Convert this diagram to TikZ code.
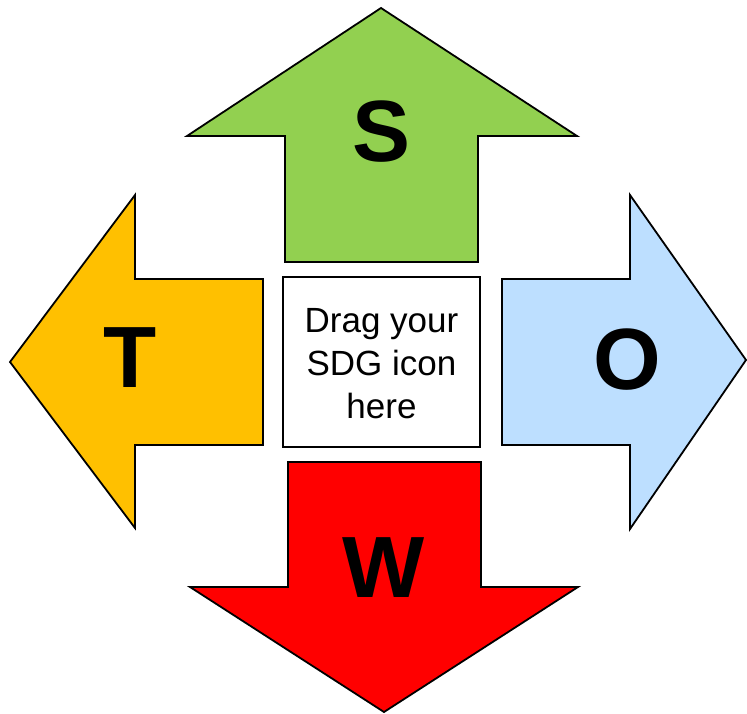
\documentclass[tikz,border=0pt]{standalone}
\usepackage{fontspec}
\setmainfont{Liberation Sans}
\definecolor{swotgreen}{HTML}{92D050}
\definecolor{swotorange}{HTML}{FFC000}
\definecolor{swotblue}{HTML}{BDDFFF}
\definecolor{swotred}{HTML}{FF0000}
\begin{document}
\begin{tikzpicture}[x=1pt,y=-1pt,
  arrowshape/.style={draw=black,line width=1.8pt,line join=miter},
  bigletter/.style={inner sep=0pt,font=\fontsize{87}{87}\selectfont\bfseries},
  dropbox/.style={draw=black,line width=1.8pt,fill=white},
  droptext/.style={align=center,inner sep=0pt,font=\fontsize{35}{43}\selectfont}]
\useasboundingbox (0,0) rectangle (747,714);
% S: up arrow
\draw[arrowshape,fill=swotgreen] (381,8) -- (577,136) -- (478,136) -- (478,262)
  -- (285,262) -- (285,136) -- (187,136) -- cycle;
% T: left arrow
\draw[arrowshape,fill=swotorange] (10,362) -- (135,195) -- (135,279) -- (263,279)
  -- (263,445) -- (135,445) -- (135,528) -- cycle;
% O: right arrow
\draw[arrowshape,fill=swotblue] (746,360) -- (630,195) -- (630,279) -- (502,279)
  -- (502,445) -- (630,445) -- (630,529) -- cycle;
% W: down arrow
\draw[arrowshape,fill=swotred] (384,712) -- (578,587) -- (481,587) -- (481,462)
  -- (288,462) -- (288,587) -- (190,587) -- cycle;
% centre placeholder box
\draw[dropbox] (283,277) rectangle (480,447);
\node[droptext] (drop) at (381.5,364) {Drag your\\SDG icon\\here};
% letters
\node[bigletter] (s) at (382,132) {S};
\node[bigletter] (t) at (130,358) {T};
\node[bigletter] (o) at (627,360) {O};
\node[bigletter] (w) at (384,568) {W};
\end{tikzpicture}
\end{document}
